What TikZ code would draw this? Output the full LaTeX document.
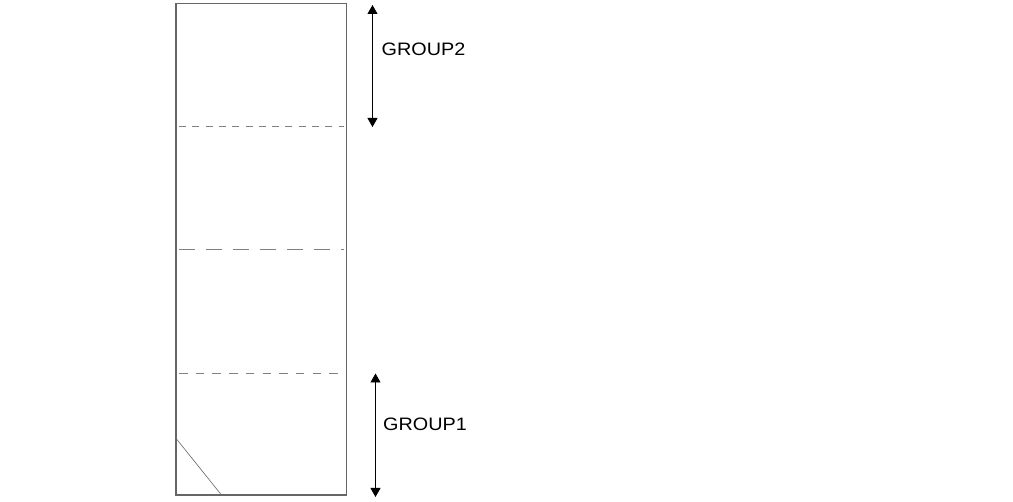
\documentclass[tikz,border=0pt]{standalone}
\usepackage{fontspec}
\setmainfont{Liberation Sans}
\usetikzlibrary{arrows.meta}
\begin{document}
\begin{tikzpicture}[x=1pt,y=-1pt,
  frame/.style={draw=black!60,line width=1.4pt},
  divider/.style={draw=black!50,line width=0.9pt},
  span/.style={draw=black,line width=0.8pt,{Triangle[width=10pt,length=9pt]}-{Triangle[width=10pt,length=9pt]}},
  lbl/.style={font=\fontsize{18}{20}\selectfont,xscale=1.1,inner sep=0pt}]
\useasboundingbox (0,0) rectangle (1013,502);
\fill[white] (0,0) rectangle (1013,502);
% main column
\draw[frame] (176,3.5) rectangle (346.5,495);
% dividers
\coordinate (d1l) at (179,126.5);
\coordinate (d1r) at (344,126.5);
\coordinate (d2l) at (179,249.5);
\coordinate (d2r) at (344,249.5);
\coordinate (d3l) at (179,373.5);
\coordinate (d3r) at (344,373.5);
\draw[divider,dash pattern=on 7pt off 6.3pt] (d1l) -- (d1r);
\draw[divider,dash pattern=on 16pt off 11pt] (d2l) -- (d2r);
\draw[divider,dash pattern=on 8.5pt off 8.2pt] (d3l) -- (d3r);
% corner diagonal
\coordinate (cA) at (176.5,439);
\coordinate (cB) at (221.5,495);
\draw[draw=black!60,line width=0.6pt] (cA) -- (cB);
% group arrows
\coordinate (g2t) at (372.5,5);
\coordinate (g2b) at (372.5,127);
\coordinate (g1t) at (375.5,373.5);
\coordinate (g1b) at (375.5,497);
\draw[span] (g2t) -- (g2b);
\draw[span] (g1t) -- (g1b);
\node[lbl] (group2) at (423.5,49) {GROUP2};
\node[lbl] (group1) at (425,424) {GROUP1};
\end{tikzpicture}
\end{document}
